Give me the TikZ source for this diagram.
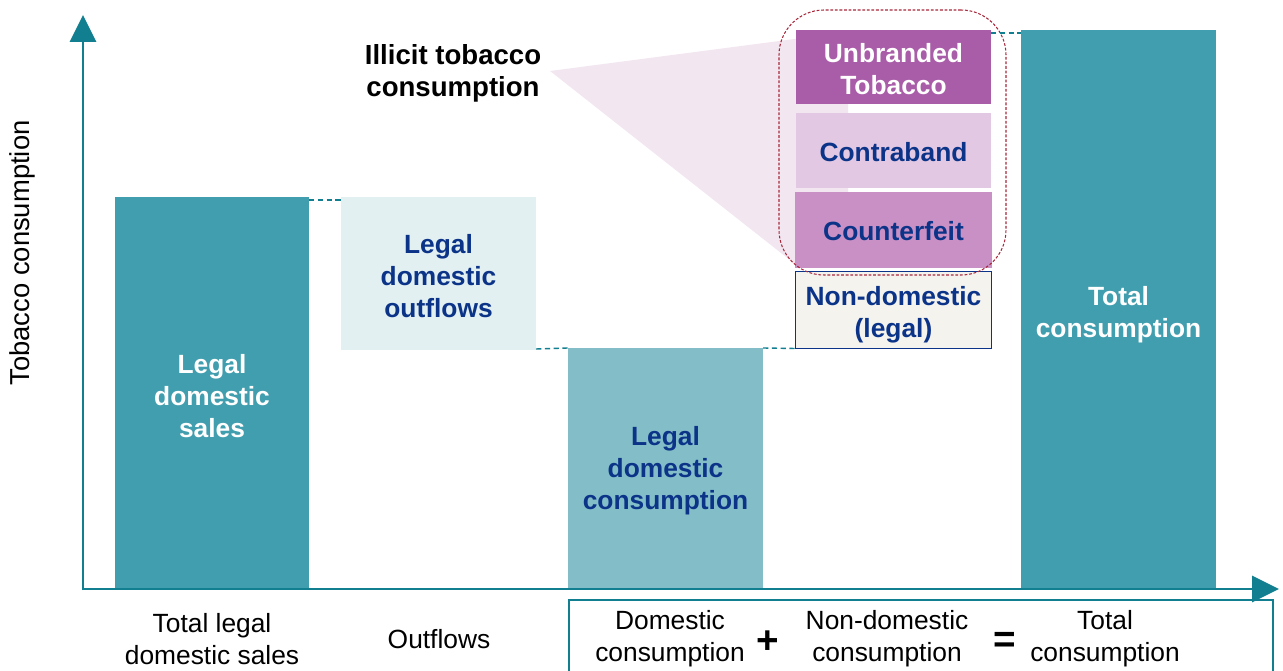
\documentclass[tikz,border=0pt]{standalone}
\usepackage{fontspec}
\setmainfont{Liberation Sans}
\usetikzlibrary{arrows.meta}
\definecolor{teal1}{HTML}{419EAE}
\definecolor{tealax}{HTML}{127F90}
\definecolor{tealLight}{HTML}{E2F0F2}
\definecolor{tealMid}{HTML}{83BEC8}
\definecolor{navy}{HTML}{0B3388}
\definecolor{purpleDark}{HTML}{A95CA8}
\definecolor{purpleLight}{HTML}{E2C8E2}
\definecolor{purpleMid}{HTML}{C890C4}
\definecolor{wedge}{HTML}{F2E6F0}
\definecolor{cream}{HTML}{F4F3EE}
\definecolor{redline}{HTML}{A8283C}
\tikzset{
  bar/.style n args={2}{inner sep=0pt, outer sep=0pt, minimum width={#1*0.02cm}, minimum height={#2*0.02cm}},
  bartext/.style={inner sep=0pt, align=center, font=\bfseries\fontsize{15}{18.2}\selectfont},
  lbl/.style={align=center, font=\fontsize{15}{18.1}\selectfont, text=black, inner sep=0pt},
  guide/.style={draw=tealax, line width=0.8pt, dash pattern=on 3pt off 2pt},
  axis/.style={draw=tealax, line width=1.7pt, -{Triangle[width=0.52cm,length=0.54cm]}},
}
\begin{document}
\begin{tikzpicture}[x=0.02cm,y=-0.02cm]
\useasboundingbox (0,0) rectangle (1283,671);
% wedge
\fill[wedge] (550,71) -- (848,32) -- (848,264) -- (795,264) -- cycle;
% bars
\node[bar={194}{393}, fill=teal1] (sales) at (212,393.5) {};
\node[bar={195}{153}, fill=tealLight] (outflows) at (438.5,273.5) {};
\node[bar={195}{242}, fill=tealMid] (domcons) at (665.5,469) {};
\node[bar={195}{74}, fill=purpleDark] (unbranded) at (893.5,67) {};
\node[bar={195}{75}, fill=purpleLight] (contraband) at (893.5,150.5) {};
\node[bar={197}{76}, fill=purpleMid] (counterfeit) at (893.5,230) {};
\node[bar={196}{77}, fill=cream, draw=navy, line width=1pt] (nondom) at (893.5,310) {};
\node[bar={195}{560}, fill=teal1] (total) at (1118.5,310) {};
% bar texts
\node[bartext, text=white] (salesT) at ([yshift=-0.05cm]sales.center) {Legal\\domestic\\sales};
\node[bartext, text=navy] (outflowsT) at ([yshift=-0.05cm]outflows.center) {Legal\\domestic\\outflows};
\node[bartext, text=navy] (domconsT) at ([yshift=-0.04cm]domcons.center) {Legal\\domestic\\consumption};
\node[bartext, text=white] (unbrandedT) at ([yshift=-0.05cm]unbranded.center) {Unbranded\\Tobacco};
\node[bartext, text=navy] (contrabandT) at ([yshift=-0.03cm]contraband.center) {Contraband};
\node[bartext, text=navy] (counterfeitT) at ([yshift=-0.02cm]counterfeit.center) {Counterfeit};
\node[bartext, text=navy] (nondomT) at ([yshift=-0.09cm]nondom.center) {Non-domestic\\(legal)};
\node[bartext, text=white] (totalT) at ([yshift=-0.09cm]total.center) {Total\\consumption};
% illicit group
\node[draw=redline, line width=0.6pt, dash pattern=on 1.6pt off 1pt, rounded corners=0.9cm, minimum width={227*0.02cm}, minimum height={265*0.02cm}, inner sep=0pt] (illicit) at (892.5,142.5) {};
\node[align=center, font=\bfseries\fontsize{15.7}{18.1}\selectfont, inner sep=0pt] (illicitlbl) at (453,73) {Illicit tobacco\\consumption};
% guide lines
\draw[guide] (sales.north east) ++(0,3) -- (outflows.north west |- 0,200);
\draw[guide] (outflows.south east) ++(0,-1) -- (domcons.north west);
\draw[guide] (domcons.north east) -- (nondom.south west);
\draw[guide] (unbranded.north east) ++(0,3) -- (total.north west |- 0,33);
% axes
\coordinate (origin) at (83,589);
\coordinate (ytip) at (83,15);
\coordinate (xtip) at (1279,589);
\draw[axis] (origin) ++(0,1) -- (ytip);
\draw[axis] (origin) -- (xtip);
\node[lbl, rotate=90, font=\fontsize{15.6}{18}\selectfont] (ylabel) at (22,253) {Tobacco consumption};
% bottom labels
\node[lbl] (l1) at (212,639) {Total legal\\domestic sales};
\node[lbl] (l2) at (439,639) {Outflows};
\draw[draw=tealax, line width=1.1pt] (569,700) -- (569,600) -- (1273,600) -- (1273,700);
\node[lbl] (l3) at (670,639) {Domestic\\consumption};
\node[lbl, font=\bfseries\fontsize{22}{24}\selectfont] (plus) at (768,642) {+};
\node[lbl] (l4) at (887,639) {Non-domestic\\consumption};
\node[lbl, font=\bfseries\fontsize{22}{24}\selectfont] (eq) at (1005,642) {=};
\node[lbl] (l5) at (1105,639) {Total\\consumption};
\end{tikzpicture}
\end{document}
